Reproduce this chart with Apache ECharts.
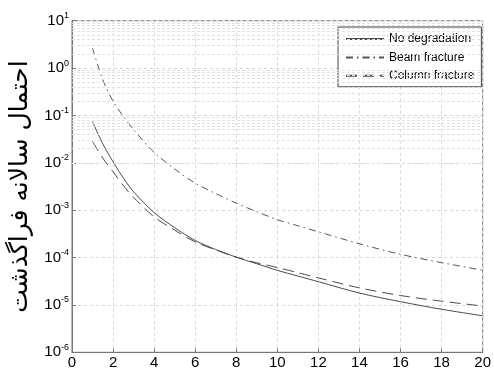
<!DOCTYPE html>
<html><head><meta charset="utf-8">
<script src="https://cdn.jsdelivr.net/npm/echarts@6/dist/echarts.min.js"></script>
<style>html,body{margin:0;padding:0;background:#fff}#c{width:494px;height:372px}</style>
</head><body><div id="c"></div>
<script>
const xValues = [1, 1.5, 2, 2.5, 3, 4, 5, 6, 7, 8, 9, 10, 11, 12, 14, 16, 18, 20];
const noDegradation = [0.0741, 0.0251, 0.0105, 0.00479, 0.00245, 0.00089, 0.000427, 0.000229, 0.000148, 0.000102, 0.0000741, 0.0000537, 0.0000407, 0.0000309, 0.0000178, 0.0000117, 0.0000081, 0.0000059];
const beamFracture = [2.63, 0.562, 0.2, 0.0955, 0.0501, 0.0166, 0.00741, 0.00372, 0.00224, 0.00141, 0.00093, 0.00063, 0.00047, 0.00035, 0.000195, 0.000117, 0.000078, 0.000054];
const columnFracture = [0.0282, 0.0126, 0.00646, 0.00331, 0.00186, 0.000724, 0.00038, 0.000214, 0.000145, 0.000102, 0.0000776, 0.0000617, 0.0000479, 0.0000372, 0.0000229, 0.0000158, 0.000012, 0.0000095];
const seriesNames = ['No degradation', 'Beam fracture', 'Column fracture'];
const xMin = 0, xMax = 20, xStep = 2;
const yMin = 1e-6, yMax = 10;
const yAxisTitle = 'احتمال سالانه فراگذشت';
const minorMultipliers = [2, 3, 4, 5, 6, 7, 8, 9];
const decades = [1e-6, 1e-5, 1e-4, 1e-3, 1e-2, 1e-1, 1];

const pair = arr => xValues.map((x, i) => [x, arr[i]]);
const minorLines = [];
decades.forEach(d => minorMultipliers.forEach(m => minorLines.push({ yAxis: d * m })));

const chart = echarts.init(document.getElementById('c'), null, { renderer: 'canvas' });
const lineColor = '#4a4a4a';
const dashBeam = [7, 4, 1.5, 4];
const dashColumn = [11, 6];
chart.setOption({
  animation: false,
  backgroundColor: '#fff',
  grid: { left: 69.5, right: 6.5, top: 20.7, bottom: 19.7, show: true, borderColor: '#777', borderWidth: 1, backgroundColor: 'transparent' },
  legend: {
    orient: 'vertical', left: 338, top: 27,
    data: seriesNames.map(n => ({ name: n, itemStyle: { opacity: 0, borderWidth: 0 } })),
    itemWidth: 38, itemHeight: 12, itemGap: 6.4,
    padding: [6, 7, 5, 7],
    borderColor: '#444', borderWidth: 1, backgroundColor: '#fff',
    textStyle: { fontFamily: 'Liberation Sans, Arial', fontSize: 12, color: '#000' }
  },
  xAxis: {
    type: 'value', min: xMin, max: xMax, interval: xStep,
    axisLine: { lineStyle: { color: '#777' } },
    axisTick: { inside: true, length: 4, lineStyle: { color: '#777' } },
    axisLabel: { fontFamily: 'Liberation Sans, Arial', fontSize: 15, color: '#000', margin: 3 },
    splitLine: { show: true, lineStyle: { color: '#d8d8d8', type: [3, 3], width: 1 } }
  },
  yAxis: {
    type: 'log', logBase: 10, min: yMin, max: yMax,
    name: yAxisTitle, nameLocation: 'middle', nameRotate: 90, nameGap: 39,
    nameTextStyle: { fontFamily: 'DejaVu Sans', fontSize: 25, color: '#000' },
    axisLine: { lineStyle: { color: '#777' } },
    axisTick: { inside: true, length: 4, lineStyle: { color: '#777' } },
    axisLabel: {
      margin: 3,
      formatter: v => '{b|10}{s|' + Math.round(Math.log10(v)) + '}',
      rich: {
        b: { fontFamily: 'Liberation Sans, Arial', fontSize: 15, color: '#000' },
        s: { fontFamily: 'Liberation Sans, Arial', fontSize: 9, color: '#000', padding: [0, 0, 10, 0] }
      }
    },
    splitLine: { show: true, lineStyle: { color: '#d8d8d8', type: [3, 3], width: 1 } }
  },
  series: [
    { name: seriesNames[0], type: 'line', data: pair(noDegradation), symbol: 'none', smooth: 0.3,
      lineStyle: { color: lineColor, width: 1, type: 'solid' }, itemStyle: { color: lineColor } },
    { name: seriesNames[1], type: 'line', data: pair(beamFracture), symbol: 'none', smooth: 0.3,
      lineStyle: { color: '#555', width: 1, type: dashBeam }, itemStyle: { color: '#555' } },
    { name: seriesNames[2], type: 'line', data: pair(columnFracture), symbol: 'none', smooth: 0.3,
      lineStyle: { color: lineColor, width: 1, type: dashColumn }, itemStyle: { color: lineColor } },
    { name: 'minorGrid', type: 'line', data: [], silent: true,
      markLine: { silent: true, symbol: 'none', label: { show: false },
        lineStyle: { color: '#e2e2e2', type: [3, 2], width: 1 }, emphasis: { disabled: true },
        data: minorLines } }
  ]
});
</script></body></html>
